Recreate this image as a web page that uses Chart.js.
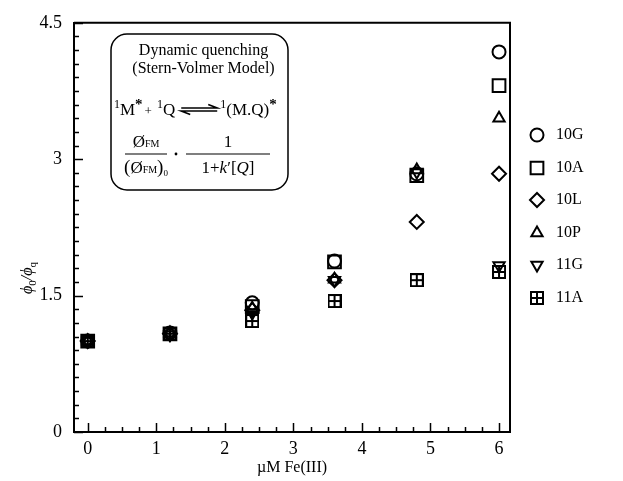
<!DOCTYPE html>
<html><head><meta charset="utf-8">
<script src="https://cdn.jsdelivr.net/npm/chart.js@4"></script>
<style>html,body{margin:0;padding:0;background:#fff}canvas{display:block}</style>
</head><body>
<canvas id="c" width="623" height="481" style="width:623px;height:481px"></canvas>
<script>
// ---- data ----
const concentrations = [0, 1.2, 2.4, 3.6, 4.8, 6];          // µM Fe(III)
const series10G = [1.00, 1.09, 1.42, 1.88, 2.84, 4.18];
const series10A = [1.00, 1.08, 1.38, 1.87, 2.82, 3.81];
const series10L = [1.00, 1.08, 1.34, 1.67, 2.31, 2.84];
const series10P = [1.00, 1.09, 1.36, 1.68, 2.88, 3.45];
const series11G = [1.00, 1.07, 1.31, 1.67, 2.86, 1.83];
const series11A = [1.00, 1.08, 1.22, 1.44, 1.67, 1.76];
const seriesNames = ['10G', '10A', '10L', '10P', '11G', '11A'];
const xTickValues = [0, 1, 2, 3, 4, 5, 6];
const yTickValues = [0, 1.5, 3, 4.5];

const SERIF = '"Liberation Serif", "Times New Roman", serif';

function boxPlus(size) {
  const c = document.createElement('canvas');
  c.width = size; c.height = size;
  const g = c.getContext('2d');
  g.strokeStyle = '#000'; g.lineWidth = 2;
  g.strokeRect(1, 1, size - 2, size - 2);
  g.beginPath();
  g.moveTo(size / 2, 1); g.lineTo(size / 2, size - 1);
  g.moveTo(1, size / 2); g.lineTo(size - 1, size / 2);
  g.stroke();
  return c;
}
const boxPlusImg = boxPlus(14);

const allSeries = [series10G, series10A, series10L, series10P, series11G, series11A];
const styles = [
  {pointStyle: 'circle', pointRadius: 6.5, rotation: 0},
  {pointStyle: 'rect', pointRadius: 9, rotation: 0},
  {pointStyle: 'rectRot', pointRadius: 7, rotation: 0},
  {pointStyle: 'triangle', pointRadius: 6.5, rotation: 0},
  {pointStyle: 'triangle', pointRadius: 6.5, rotation: 180},
  {pointStyle: boxPlusImg, pointRadius: 7, rotation: 0}
];

const datasets = allSeries.map((s, i) => ({
  label: seriesNames[i],
  data: concentrations.map((x, j) => ({x: x, y: s[j]})),
  pointStyle: styles[i].pointStyle,
  pointRadius: styles[i].pointRadius,
  pointRotation: styles[i].rotation,
  pointBorderWidth: 2,
  pointBorderColor: '#000',
  pointBackgroundColor: 'rgba(0,0,0,0)',
  showLine: false
}));

// ---- decorations plugin ----
function runs(ctx, x, y, parts) {
  for (const p of parts) {
    ctx.font = p.f;
    ctx.fillText(p.t, x, y + (p.dy || 0));
    x += ctx.measureText(p.t).width + (p.sp || 0);
  }
  return x;
}
function runsWidth(ctx, parts) {
  let w = 0;
  for (const p of parts) { ctx.font = p.f; w += ctx.measureText(p.t).width + (p.sp || 0); }
  return w;
}

const decor = {
  id: 'decor',
  afterDraw(chart) {
    const ctx = chart.ctx;
    const xs = chart.scales.x, ys = chart.scales.y;
    const a = chart.chartArea;
    ctx.save();
    ctx.strokeStyle = '#000';
    ctx.fillStyle = '#000';
    // frame top/right
    ctx.lineWidth = 2;
    ctx.beginPath();
    ctx.moveTo(a.left, a.top); ctx.lineTo(a.right, a.top); ctx.lineTo(a.right, a.bottom);
    ctx.stroke();
    // inward ticks
    ctx.lineWidth = 1.5;
    ctx.beginPath();
    for (let i = 0; i <= 24; i++) {
      const px = Math.round(xs.getPixelForValue(i * 0.25)) + 0.5;
      const len = (i % 4 === 0) ? 9 : 5;
      ctx.moveTo(px, a.bottom); ctx.lineTo(px, a.bottom - len);
    }
    for (let i = 0; i <= 30; i++) {
      const py = Math.round(ys.getPixelForValue(i * 0.15)) + 0.5;
      const len = (i % 10 === 0) ? 9 : 5;
      ctx.moveTo(a.left, py); ctx.lineTo(a.left + len, py);
    }
    ctx.stroke();

    // y-axis title  phi0/phiq
    ctx.save();
    ctx.translate(27, 278);
    ctx.rotate(-Math.PI / 2);
    ctx.textBaseline = 'alphabetic';
    const yParts = [
      {t: 'ϕ', f: 'italic 16px ' + SERIF},
      {t: '0', f: '11px ' + SERIF, dy: 4},
      {t: '/ϕ', f: 'italic 16px ' + SERIF},
      {t: 'q', f: '11px ' + SERIF, dy: 4}
    ];
    const yw = runsWidth(ctx, yParts);
    runs(ctx, -yw / 2, 5, yParts);
    ctx.restore();

    // inset box
    const bx = 111, by = 34, bw = 177, bh = 156, r = 16;
    ctx.lineWidth = 1.5;
    ctx.beginPath();
    ctx.roundRect(bx, by, bw, bh, r);
    ctx.stroke();
    ctx.textAlign = 'center';
    ctx.textBaseline = 'alphabetic';
    ctx.font = '16px ' + SERIF;
    ctx.fillText('Dynamic quenching', bx + bw / 2 + 4, 55);
    ctx.fillText('(Stern-Volmer Model)', bx + bw / 2 + 4, 73);
    ctx.textAlign = 'left';
    // reaction line
    const base = 115;
    let x = 114;
    x = runs(ctx, x, base, [
      {t: '1', f: '12px ' + SERIF, dy: -7},
      {t: 'M', f: '17px ' + SERIF},
      {t: '*', f: 'bold 15px ' + SERIF, dy: -6, sp: 2},
      {t: '+', f: '13px ' + SERIF, sp: 5},
      {t: '1', f: '12px ' + SERIF, dy: -7},
      {t: 'Q', f: '17px ' + SERIF, sp: 6}
    ]);
    // equilibrium arrows
    const ax0 = x, ax1 = x + 36;
    ctx.lineWidth = 1.6;
    ctx.beginPath();
    ctx.moveTo(ax0, base - 7); ctx.lineTo(ax1, base - 7); ctx.lineTo(ax1 - 9, base - 10.5);
    ctx.moveTo(ax1, base - 4); ctx.lineTo(ax0, base - 4); ctx.lineTo(ax0 + 9, base - 0.5);
    ctx.stroke();
    x = ax1 + 3;
    runs(ctx, x, base, [
      {t: '1', f: '12px ' + SERIF, dy: -7},
      {t: '(M.Q)', f: '17px ' + SERIF},
      {t: '*', f: 'bold 15px ' + SERIF, dy: -6}
    ]);
    // fraction 1: ØFM / (ØFM)0
    const numY = 147, lineY = 154, denY = 173;
    ctx.lineWidth = 1.2;
    ctx.beginPath();
    ctx.moveTo(125, lineY); ctx.lineTo(167, lineY);
    ctx.moveTo(186, lineY); ctx.lineTo(270, lineY);
    ctx.stroke();
    const numParts = [{t: 'Ø', f: '17px ' + SERIF}, {t: 'FM', f: '10px ' + SERIF}];
    runs(ctx, 146 - runsWidth(ctx, numParts) / 2, numY, numParts);
    const denParts = [
      {t: '(', f: '19px ' + SERIF},
      {t: 'Ø', f: '17px ' + SERIF}, {t: 'FM', f: '10px ' + SERIF},
      {t: ')', f: '19px ' + SERIF},
      {t: '0', f: '9px ' + SERIF, dy: 3}
    ];
    runs(ctx, 146 - runsWidth(ctx, denParts) / 2, denY, denParts);
    // separator dot
    ctx.beginPath(); ctx.arc(176, lineY, 1.4, 0, Math.PI * 2); ctx.fill();
    // fraction 2: 1 / (1+k'[Q])
    ctx.font = '17px ' + SERIF;
    ctx.textAlign = 'center';
    ctx.fillText('1', 228, numY);
    ctx.textAlign = 'left';
    const d2 = [
      {t: '1+', f: '17px ' + SERIF},
      {t: 'k', f: 'italic 17px ' + SERIF},
      {t: '′[', f: '17px ' + SERIF},
      {t: 'Q', f: 'italic 17px ' + SERIF},
      {t: ']', f: '17px ' + SERIF}
    ];
    runs(ctx, 228 - runsWidth(ctx, d2) / 2, denY, d2);

    // legend
    const lgX = 537, txX = 556;
    const rows = [135, 168, 200, 233, 265, 298];
    chart.data.datasets.forEach((ds, i) => {
      ctx.strokeStyle = '#000';
      ctx.fillStyle = 'rgba(0,0,0,0)';
      ctx.lineWidth = 2;
      Chart.helpers.drawPoint(ctx, {
        pointStyle: ds.pointStyle,
        radius: ds.pointRadius,
        rotation: ds.pointRotation,
        borderWidth: 2
      }, lgX, rows[i]);
      ctx.fillStyle = '#000';
      ctx.font = '16px ' + SERIF;
      ctx.textBaseline = 'middle';
      ctx.fillText(ds.label, txX, rows[i]);
    });
    ctx.restore();
  }
};

new Chart(document.getElementById('c'), {
  type: 'scatter',
  data: {datasets: datasets},
  options: {
    responsive: false,
    animation: false,
    devicePixelRatio: 1,
    layout: {padding: {top: 22, right: 113, left: 0, bottom: 0}},
    plugins: {legend: {display: false}, tooltip: {enabled: false}},
    scales: {
      x: {
        type: 'linear', min: -0.2, max: 6.16,
        afterBuildTicks: s => { s.ticks = xTickValues.map(v => ({value: v})); },
        afterFit: s => { s.height = 49; },
        grid: {display: false, drawTicks: false},
        border: {display: true, color: '#000', width: 2},
        ticks: {color: '#000', padding: 6, font: {family: SERIF, size: 18}, maxRotation: 0},
        title: {display: true, text: 'µM Fe(III)', color: '#000', font: {family: SERIF, size: 16}, padding: {top: 4, bottom: 4}}
      },
      y: {
        type: 'linear', min: 0, max: 4.5,
        afterBuildTicks: s => { s.ticks = yTickValues.map(v => ({value: v})); },
        afterFit: s => { s.width = 74; },
        grid: {display: false, drawTicks: false},
        border: {display: true, color: '#000', width: 2},
        ticks: {color: '#000', padding: 12, font: {family: SERIF, size: 18}}
      }
    }
  },
  plugins: [decor]
});
</script>
</body></html>
